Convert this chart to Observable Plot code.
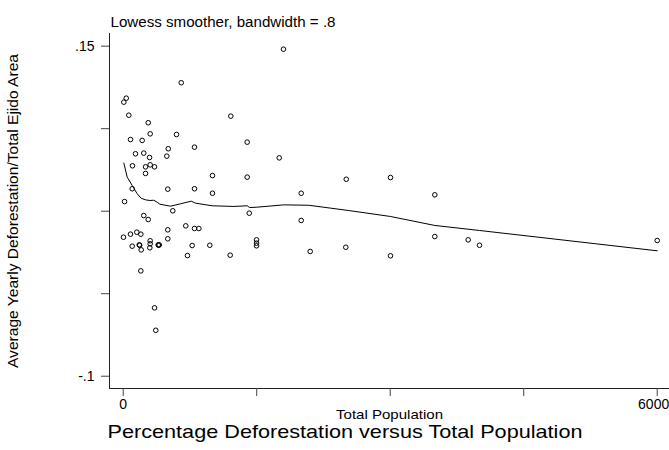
<!DOCTYPE html>
<html>
<head>
<meta charset="utf-8">
<script src="https://cdn.jsdelivr.net/npm/d3@7"></script>
<script src="https://cdn.jsdelivr.net/npm/@observablehq/plot@0.6"></script>
<style>
  html, body { margin: 0; padding: 0; background: #fff; }
  #chart svg { display: block; font-family: "Liberation Sans", Arial, sans-serif; color: #000; }
</style>
</head>
<body>
<div id="chart"></div>
<script>
// ---- Data ----
const popX = [1801, 652, 34, 7, 63, 1209, 281, 303, 599, 82, 213, 1393, 801, 506, 138, 231, 296, 490, 1753,
  104, 251, 303, 352, 251, 1003, 1393, 2506, 3003, 101, 501, 801, 1003, 2000, 3501, 15, 557, 1416, 231, 281,
  2000, 703, 801, 850, 501, 3501, 3, 82, 153, 198, 501, 303, 1498, 3876, 6000, 303, 1498, 101, 180, 185, 299,
  393, 405, 398, 775, 973, 1498, 2501, 4003, 202, 2101, 722, 1202, 3003, 198, 352, 366];
const defY = [.1477, .1223, .1106, .1076, .0977, .0970, .0920, .0836, .0831, .0793, .0786, .0773, .0735, .0723,
  .0685, .0690, .0657, .0667, .0654, .0594, .0586, .0601, .0586, .0536, .0520, .0508, .0492, .0505, .0420, .0417,
  .0420, .0386, .0386, .0374, .0323, .0253, .0235, .0217, .0187, .0180, .0139, .0119, .0119, .0109, .0058, .0053,
  .0076, .0091, .0076, .0041, .0026, .0033, .0033, .0028, .0003, .0008, -.0015, -.0005, -.0008, -.0027, -.0005,
  -.0005, -.0008, -.0010, -.0008, -.0012, -.0023, -.0008, -.0043, -.0055, -.0086, -.0083, -.0088, -.0202, -.0482, -.0652];

const lowX = [7, 45, 101, 157, 202, 251, 299, 344, 382, 411, 531, 644, 764, 812, 1000, 1243, 1393, 1419, 1494,
  1804, 2085, 2535, 3003, 3501, 4003, 6000];
const lowY = [.0614, .0508, .0445, .0382, .0348, .0336, .0331, .0333, .0318, .0303, .0288, .0306, .0326, .0311,
  .0291, .0286, .0291, .0278, .0280, .0298, .0295, .0255, .0210, .0142, .0104, -.0050];

const xTicks = [0, 1500, 3000, 4500, 6000];
const xTickLabels = ["0", "", "", "", "6000"];
const yTicks = [-.1, -.0375, .025, .0875, .15];
const yTickLabels = ["-.1", "", "", "", ".15"];

const subtitle = "Lowess smoother, bandwidth = .8";
const title = "Percentage Deforestation versus Total Population";
const xLabel = "Total Population";
const yLabel = "Average Yearly Deforestation/Total Ejido Area";

const xDomain = [-154, 6138];
const yDomain = [-.1093, .1596];

const xLab = new Map(xTicks.map((t, i) => [t, xTickLabels[i]]));
const yLab = new Map(yTicks.map((t, i) => [t, yTickLabels[i]]));
const lastX = xTicks[xTicks.length - 1];

const svg = Plot.plot({
  width: 669,
  height: 450,
  marginLeft: 109,
  marginRight: 0,
  marginTop: 33,
  marginBottom: 62,
  style: {fontFamily: '"Liberation Sans", Arial, sans-serif', color: "#000", background: "#fff"},
  x: {domain: xDomain},
  y: {domain: yDomain},
  marks: [
    Plot.ruleX([xDomain[0]], {stroke: "#222", strokeWidth: 1}),
    Plot.ruleY([yDomain[0]], {stroke: "#222", strokeWidth: 1}),
    Plot.axisX(xTicks, {anchor: "bottom", tickSize: 8, tickPadding: 3, fontSize: 14, stroke: "#444",
      tickFormat: d => (d === lastX ? "" : xLab.get(d) ?? ""), label: null}),
    Plot.axisX([lastX], {anchor: "bottom", tickSize: 0, tickPadding: 11, fontSize: 14, textAnchor: "end", dx: 12,
      tickFormat: d => xLab.get(d) ?? "", label: null}),
    Plot.axisY(yTicks, {anchor: "left", tickSize: 8, tickPadding: 7, fontSize: 14, stroke: "#444",
      tickFormat: d => yLab.get(d) ?? "", label: null}),
    Plot.line(lowX, {x: lowX, y: lowY, stroke: "#000", strokeWidth: 1}),
    Plot.dot(popX, {x: popX, y: defY, r: 2.3, stroke: "#000", strokeWidth: 1, fill: "none"}),
    Plot.text([subtitle], {frameAnchor: "top-left", dx: 1, dy: -16, textAnchor: "start", fontSize: 14, fill: "#000"}),
    Plot.text([xLabel], {frameAnchor: "bottom", dy: 30, fontSize: 13.5, fill: "#000"}),
    Plot.text([title], {frameAnchor: "bottom", dx: -44.5, dy: 49, fontSize: 19, fill: "#000"}),
    Plot.text([yLabel], {frameAnchor: "left", textAnchor: "middle", dx: -96, rotate: -90, fontSize: 14, fill: "#000"})
  ]
});

// stretch texts to the widths measured on the reference
const widths = new Map([[subtitle, 225], [xLabel, 107], [title, 475], [yLabel, 314]]);
d3.select(svg).selectAll("text").each(function () {
  const w = widths.get(this.textContent);
  if (w) { this.setAttribute("textLength", w); this.setAttribute("lengthAdjust", "spacingAndGlyphs"); }
});

document.getElementById("chart").appendChild(svg);
</script>
</body>
</html>
